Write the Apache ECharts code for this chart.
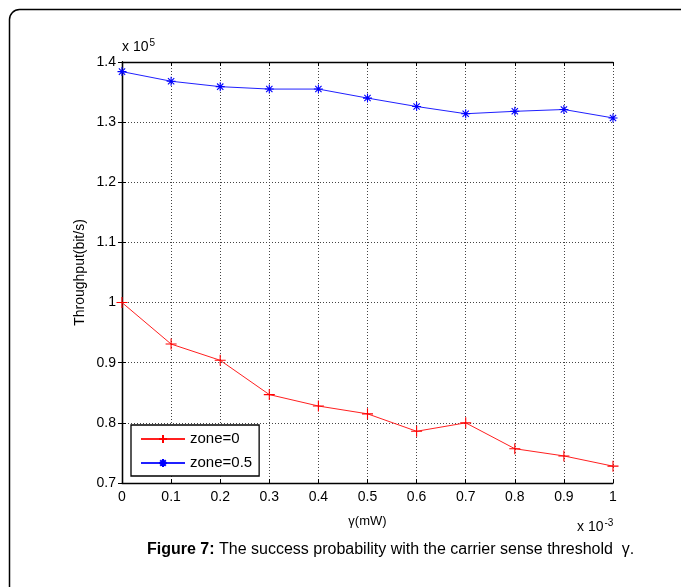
<!DOCTYPE html>
<html>
<head>
<meta charset="utf-8">
<script src="https://cdn.jsdelivr.net/npm/echarts@6/dist/echarts.min.js"></script>
<style>html,body{margin:0;padding:0;background:#fff}#c{width:681px;height:587px}</style>
</head>
<body>
<div id="c"></div>
<script>
// gamma in units of 1e-3 mW
var gammaValues = [0, 0.1, 0.2, 0.3, 0.4, 0.5, 0.6, 0.7, 0.8, 0.9, 1.0];
// throughput in units of 1e5 bit/s
var zone0 = [1.000, 0.931, 0.904, 0.847, 0.828, 0.815, 0.786, 0.800, 0.757, 0.745, 0.728];
var zone05 = [1.384, 1.368, 1.359, 1.355, 1.355, 1.340, 1.326, 1.314, 1.318, 1.321, 1.307];
var seriesNames = ['zone=0', 'zone=0.5'];
var xTickLabels = ['0', '0.1', '0.2', '0.3', '0.4', '0.5', '0.6', '0.7', '0.8', '0.9', '1'];
var yTickLabels = ['0.7', '0.8', '0.9', '1', '1.1', '1.2', '1.3', '1.4'];

function pairs(xs, ys) { return xs.map(function (x, i) { return [x, ys[i]]; }); }

var FONT = 'Liberation Sans, Arial, sans-serif';
var chart = echarts.init(document.getElementById('c'), null, {renderer: 'canvas'});

var plusPath = 'path://M5,0L5,10M0,5L10,5';
var starPath = 'path://M5,0L5,10M0,5L10,5M1.5,1.5L8.5,8.5M1.5,8.5L8.5,1.5';

var gridLine = {show: true, lineStyle: {color: '#444', type: [1, 2], width: 1}};
var tickIn = {show: true, inside: true, length: 4, lineStyle: {color: '#000'}};
var axisLineBlack = {show: true, lineStyle: {color: '#000', width: 1.3}};

chart.setOption({
  animation: false,
  backgroundColor: '#fff',
  grid: {left: 122, right: 68, top: 62, bottom: 104, containLabel: false},
  legend: {
    orient: 'vertical',
    left: 131, top: 425,
    data: seriesNames,
    backgroundColor: '#fff',
    borderColor: '#000', borderWidth: 1.3, borderRadius: 0,
    padding: [6, 7, 5, 9],
    itemGap: 8,
    itemWidth: 44, itemHeight: 10,
    textStyle: {fontFamily: FONT, fontSize: 15, color: '#000', lineHeight: 16}
  },
  xAxis: [{
    type: 'value', min: 0, max: 1, interval: 0.1,
    name: 'γ(mW)', nameLocation: 'middle', nameGap: 32, nameMoveOverlap: false,
    nameTextStyle: {fontFamily: FONT, fontSize: 13, color: '#000'},
    axisLine: axisLineBlack, axisTick: tickIn, splitLine: gridLine,
    axisLabel: {fontFamily: FONT, fontSize: 14, color: '#000', margin: 7,
      formatter: function (v) { return xTickLabels[Math.round(v * 10)]; }}
  }, {
    type: 'value', min: 0, max: 1, interval: 0.1, position: 'top',
    axisLine: axisLineBlack, axisTick: tickIn, splitLine: {show: false}, axisLabel: {show: false}
  }],
  yAxis: [{
    type: 'value', min: 0.7, max: 1.4, interval: 0.1,
    name: 'Throughput(bit/s)', nameLocation: 'middle', nameGap: 35, nameRotate: 90, nameMoveOverlap: false,
    nameTextStyle: {fontFamily: FONT, fontSize: 14, color: '#000'},
    axisLine: axisLineBlack, axisTick: tickIn, splitLine: gridLine,
    axisLabel: {fontFamily: FONT, fontSize: 14, color: '#000', margin: 6,
      formatter: function (v) { return yTickLabels[Math.round((v - 0.7) * 10)]; }}
  }, {
    type: 'value', min: 0.7, max: 1.4, interval: 0.1, position: 'right',
    axisLine: axisLineBlack, axisTick: tickIn, splitLine: {show: false}, axisLabel: {show: false}
  }],
  series: [{
    name: seriesNames[0], type: 'line',
    data: pairs(gammaValues, zone0),
    color: '#ff0000',
    lineStyle: {color: '#ff2020', width: 1},
    symbol: plusPath, symbolSize: 11,
    itemStyle: {color: '#ff0000', borderColor: '#ff0000', borderWidth: 1.1},
    z: 5
  }, {
    name: seriesNames[1], type: 'line',
    data: pairs(gammaValues, zone05),
    color: '#0000ff',
    lineStyle: {color: '#2020ff', width: 1},
    symbol: starPath, symbolSize: 9,
    itemStyle: {color: '#0000ff', borderColor: '#0000ff', borderWidth: 1.1},
    z: 5
  }],
  graphic: [
    {type: 'rect', left: 7, top: 7, z: -10, silent: true,
      shape: {width: 720, height: 640, r: [10, 0, 0, 0]},
      style: {fill: 'none', stroke: '#000', lineWidth: 1.5}},
    {type: 'text', left: 122, top: 38,
      style: {text: 'x 10{s|5}', fontFamily: FONT, fontSize: 14, fill: '#000',
        rich: {s: {fontSize: 10, verticalAlign: 'top', padding: [0, 0, 9, 1], fontFamily: FONT, fill: '#000'}}}},
    {type: 'text', left: 577, top: 518,
      style: {text: 'x 10{s|-3}', fontFamily: FONT, fontSize: 14, fill: '#000',
        rich: {s: {fontSize: 10, verticalAlign: 'top', padding: [0, 0, 9, 1], fontFamily: FONT, fill: '#000'}}}},
    {type: 'text', left: 147, top: 542,
      style: {text: '{b|Figure 7:} The success probability with the carrier sense threshold  γ.',
        fontFamily: FONT, fontSize: 16, fill: '#000',
        rich: {b: {fontWeight: 'bold', fontFamily: FONT, fontSize: 16, fill: '#000'}}}}
  ]
});
</script>
</body>
</html>
